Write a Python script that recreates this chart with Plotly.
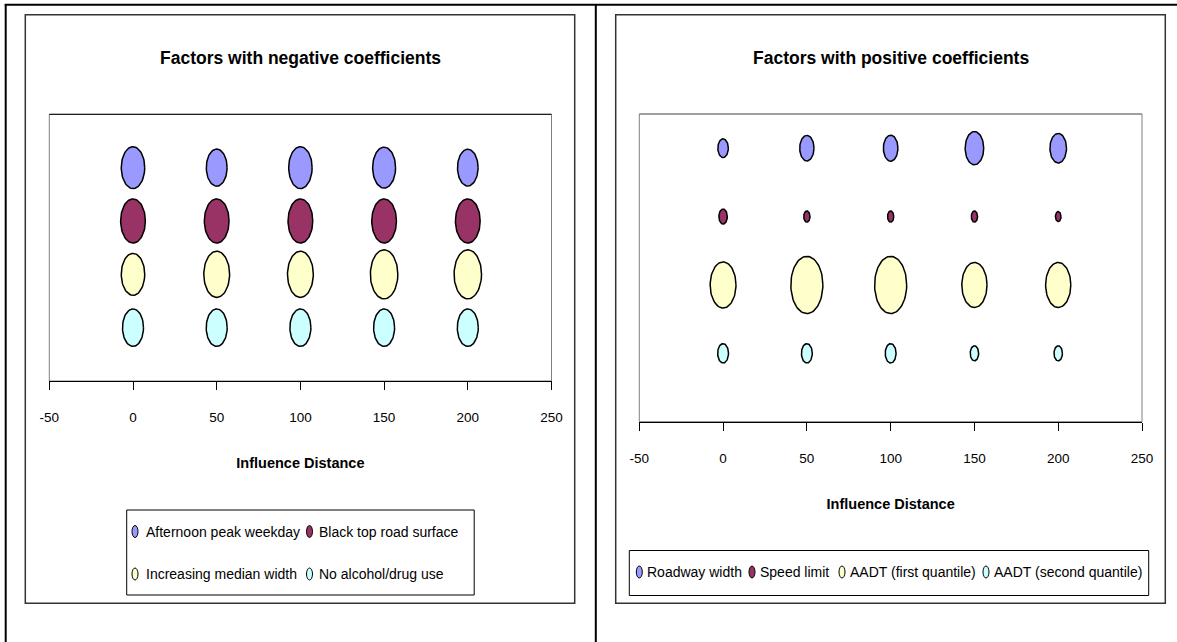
import numpy as np
import plotly.graph_objects as go

# ---------------- data ----------------
distances = [0, 50, 100, 150, 200]
tick_values = [-50, 0, 50, 100, 150, 200, 250]
tick_labels = ["-50", "0", "50", "100", "150", "200", "250"]

neg_title = "Factors with negative coefficients"
pos_title = "Factors with positive coefficients"
x_title = "Influence Distance"

neg_names = ["Afternoon peak weekday", "Black top road surface",
             "Increasing median width", "No alcohol/drug use"]
neg_rows = [4, 3, 2, 1]
afternoon_peak = [0.70, 0.55, 0.70, 0.67, 0.54]
black_top = [0.78, 0.78, 0.78, 0.78, 0.78]
median_width = [0.70, 0.85, 0.85, 0.96, 0.96]
no_alcohol = [0.56, 0.56, 0.56, 0.56, 0.56]

pos_names = ["Roadway width", "Speed limit",
             "AADT (first quantile)", "AADT (second quantile)"]
pos_rows = [4, 3, 2, 1]
roadway_width = [0.14, 0.26, 0.27, 0.44, 0.35]
speed_limit = [0.09, 0.05, 0.05, 0.05, 0.04]
aadt_first = [0.85, 1.31, 1.31, 0.81, 0.81]
aadt_second = [0.15, 0.15, 0.15, 0.09, 0.09]

colors = ["#9999FF", "#993366", "#FFFFCC", "#CCFFFF"]

# ---------------- layout geometry (px) ----------------
W, H = 1177, 642
FONT = "Liberation Sans, Arial, Helvetica, sans-serif"
BUBBLE_SCALE = 50.0      # px height of a bubble of size 1
BUBBLE_ASPECT = 0.56     # width / height of the drawn bubbles


def fx(x):
    return x / W


def fy(y):
    return 1 - y / H


panels = [
    dict(xa="x", ya="y", box=(49.3, 114.3, 551.5, 381.0), yrange=[0, 5],
         names=neg_names, rows=neg_rows,
         sizes=[afternoon_peak, black_top, median_width, no_alcohol],
         title=neg_title, cx=300.4,
         chart=(25.3, 14.7, 574.7, 603.3), top_color="black"),
    dict(xa="x2", ya="y2", box=(639.3, 114.0, 1142.0, 421.7), yrange=[0, 4.5],
         names=pos_names, rows=pos_rows,
         sizes=[roadway_width, speed_limit, aadt_first, aadt_second],
         title=pos_title, cx=890.6,
         chart=(615.7, 14.7, 1165.3, 603.3), top_color="#808080"),
]

fig = go.Figure()
theta = np.linspace(0, 2 * np.pi, 73)
shapes = []
annotations = []

for p in panels:
    x0, y0, x1, y1 = p["box"]
    ppx = (x1 - x0) / (tick_values[-1] - tick_values[0])
    ppy = (y1 - y0) / (p["yrange"][1] - p["yrange"][0])
    for name, row, vals, col in zip(p["names"], p["rows"], p["sizes"], colors):
        xs, ys = [], []
        for d, v in zip(distances, vals):
            h = BUBBLE_SCALE * np.sqrt(v)
            w = h * BUBBLE_ASPECT
            rx = w / 2 / ppx
            ry = h / 2 / ppy
            xs += list(d + rx * np.cos(theta)) + [None]
            ys += list(row + ry * np.sin(theta)) + [None]
        fig.add_trace(go.Scatter(
            x=xs, y=ys, mode="lines", fill="toself", fillcolor=col,
            line=dict(color="black", width=1.5), name=name,
            showlegend=False, hoverinfo="name",
            xaxis=p["xa"], yaxis=p["ya"]))
    # plot-area frame
    xr = p["xa"] + " domain"
    yr = p["ya"] + " domain"
    shapes.append(dict(type="rect", xref=xr, yref=yr, x0=0, x1=1, y0=0, y1=1,
                       line=dict(color="#808080", width=1), layer="below"))
    shapes.append(dict(type="line", xref=xr, yref=yr, x0=0, x1=1, y0=1, y1=1,
                       line=dict(color=p["top_color"], width=1)))
    # chart-area frame
    cx0, cy0, cx1, cy1 = p["chart"]
    shapes.append(dict(type="rect", xref="paper", yref="paper",
                       x0=fx(cx0), x1=fx(cx1), y0=fy(cy1), y1=fy(cy0),
                       line=dict(color="#333333", width=1.5)))
    # chart title
    annotations.append(dict(text=p["title"], xref="paper", yref="paper",
                            x=fx(p["cx"]), y=fy(57.5), xanchor="center",
                            yanchor="middle", showarrow=False,
                            font=dict(family=FONT, size=17.5, color="black",
                                      weight="bold")))

# axes
axis_common = dict(range=[-50, 250], tickmode="array", tickvals=tick_values,
                   ticktext=tick_labels, ticks="outside", ticklen=8,
                   tickwidth=1, tickcolor="black", showline=True,
                   linecolor="black", linewidth=1, showgrid=False,
                   zeroline=False, ticklabelstandoff=16,
                   tickfont=dict(family=FONT, size=13.5, color="black"),
                   title=dict(text=x_title, standoff=33,
                              font=dict(family=FONT, size=14.5, color="black",
                                        weight="bold")),
                   fixedrange=True)
p0, p1 = panels
fig.update_layout(
    xaxis=dict(domain=[fx(p0["box"][0]), fx(p0["box"][2])], anchor="y",
               **axis_common),
    yaxis=dict(domain=[fy(p0["box"][3]), fy(p0["box"][1])], range=p0["yrange"],
               visible=False, fixedrange=True),
    xaxis2=dict(domain=[fx(p1["box"][0]), fx(p1["box"][2])], anchor="y2",
                **axis_common),
    yaxis2=dict(domain=[fy(p1["box"][3]), fy(p1["box"][1])], range=p1["yrange"],
                visible=False, fixedrange=True, anchor="x2"),
)

# legends (keys + labels)
legend_items = [
    # (name, color, key x, key y, text x)
    (neg_names[0], colors[0], 135.0, 531.5, 144.0),
    (neg_names[1], colors[1], 309.5, 531.5, 317.0),
    (neg_names[2], colors[2], 135.0, 574.0, 144.0),
    (neg_names[3], colors[3], 309.5, 574.0, 317.0),
    (pos_names[0], colors[0], 639.3, 572.0, 645.0),
    (pos_names[1], colors[1], 752.0, 572.0, 757.5),
    (pos_names[2], colors[2], 842.0, 572.0, 847.5),
    (pos_names[3], colors[3], 986.0, 572.0, 991.5),
]
for name, col, kx, ky, tx in legend_items:
    shapes.append(dict(type="circle", xref="paper", yref="paper",
                       x0=fx(kx - 3), x1=fx(kx + 3), y0=fy(ky + 6), y1=fy(ky - 6),
                       fillcolor=col, line=dict(color="black", width=1)))
    annotations.append(dict(text=name, xref="paper", yref="paper",
                            x=fx(tx), y=fy(ky), xanchor="left", yanchor="middle",
                            showarrow=False,
                            font=dict(family=FONT, size=14, color="black")))
# legend boxes
for (bx0, by0, bx1, by1) in [(126.7, 510.0, 474.2, 595.0),
                             (629.3, 550.5, 1148.7, 595.5)]:
    shapes.append(dict(type="rect", xref="paper", yref="paper",
                       x0=fx(bx0), x1=fx(bx1), y0=fy(by1), y1=fy(by0),
                       line=dict(color="black", width=1)))

# table borders
for (lx0, ly0, lx1, ly1) in [(4.7, 4.7, 1177, 4.7), (5.7, 4.7, 5.7, 642),
                             (595.8, 4.7, 595.8, 642)]:
    shapes.append(dict(type="line", xref="paper", yref="paper",
                       x0=fx(lx0), x1=fx(lx1), y0=fy(ly0), y1=fy(ly1),
                       line=dict(color="black", width=2)))

fig.update_layout(
    width=W, height=H, margin=dict(l=0, r=0, t=0, b=0, autoexpand=False),
    paper_bgcolor="white", plot_bgcolor="white",
    shapes=shapes, annotations=annotations, showlegend=False,
    font=dict(family=FONT, color="black"),
)

fig.write_html("out.html", config={"displayModeBar": False},
               post_script="document.body.style.margin='0';"
                           "document.body.style.overflow='hidden';")
